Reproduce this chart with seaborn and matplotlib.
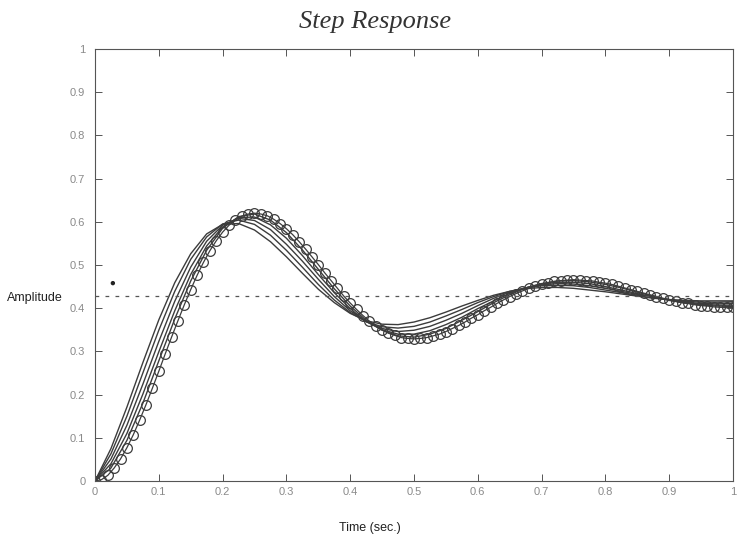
import numpy as np
import pandas as pd
import matplotlib
matplotlib.use("Agg")
import matplotlib.pyplot as plt
import seaborn as sns

# ---------------- data ----------------
title = "Step Response"
xlabel = "Time (sec.)"
ylabel = "Amplitude"
xticks = [0, 0.1, 0.2, 0.3, 0.4, 0.5, 0.6, 0.7, 0.8, 0.9, 1]
xtick_labels = ["0", "0.1", "0.2", "0.3", "0.4", "0.5", "0.6", "0.7", "0.8", "0.9", "1"]
yticks = [0, 0.1, 0.2, 0.3, 0.4, 0.5, 0.6, 0.7, 0.8, 0.9, 1]
ytick_labels = ["0", "0.1", "0.2", "0.3", "0.4", "0.5", "0.6", "0.7", "0.8", "0.9", "1"]

t_circle = np.linspace(0, 1, 101)
y_circle = [
    0.000, 0.003, 0.013, 0.030, 0.051, 0.077, 0.107, 0.141, 0.177, 0.215,
    0.254, 0.294, 0.333, 0.371, 0.408, 0.443, 0.476, 0.506, 0.533, 0.556,
    0.576, 0.592, 0.604, 0.613, 0.618, 0.620, 0.618, 0.614, 0.606, 0.596,
    0.584, 0.570, 0.554, 0.537, 0.519, 0.501, 0.482, 0.464, 0.446, 0.428,
    0.412, 0.397, 0.383, 0.370, 0.359, 0.350, 0.342, 0.337, 0.332, 0.330,
    0.329, 0.330, 0.332, 0.336, 0.340, 0.346, 0.353, 0.360, 0.368, 0.377,
    0.385, 0.394, 0.402, 0.411, 0.419, 0.427, 0.434, 0.440, 0.446, 0.451,
    0.456, 0.459, 0.462, 0.464, 0.465, 0.466, 0.465, 0.464, 0.463, 0.460,
    0.458, 0.455, 0.451, 0.447, 0.443, 0.439, 0.435, 0.431, 0.427, 0.423,
    0.420, 0.416, 0.413, 0.411, 0.408, 0.406, 0.405, 0.403, 0.402, 0.402, 0.402,
]

t_lines = np.linspace(0, 1, 41)
y_line1 = [
    0.000, 0.075, 0.171, 0.274, 0.373, 0.459, 0.526, 0.572, 0.594, 0.596,
    0.581, 0.554, 0.519, 0.481, 0.444, 0.413, 0.388, 0.371, 0.363, 0.362,
    0.368, 0.378, 0.391, 0.405, 0.418, 0.430, 0.439, 0.445, 0.448, 0.448,
    0.446, 0.442, 0.438, 0.433, 0.428, 0.423, 0.420, 0.418, 0.417, 0.417, 0.417,
]
y_line2 = [
    0.000, 0.063, 0.150, 0.250, 0.349, 0.439, 0.513, 0.565, 0.595, 0.604,
    0.594, 0.569, 0.534, 0.495, 0.455, 0.419, 0.390, 0.369, 0.357, 0.354,
    0.358, 0.368, 0.382, 0.397, 0.413, 0.427, 0.439, 0.447, 0.452, 0.453,
    0.452, 0.448, 0.442, 0.436, 0.430, 0.424, 0.420, 0.416, 0.414, 0.414, 0.415,
]
y_line3 = [
    0.000, 0.051, 0.129, 0.224, 0.323, 0.416, 0.495, 0.555, 0.592, 0.608,
    0.603, 0.582, 0.548, 0.509, 0.467, 0.427, 0.394, 0.369, 0.353, 0.346,
    0.349, 0.358, 0.372, 0.388, 0.406, 0.423, 0.437, 0.447, 0.454, 0.457,
    0.456, 0.452, 0.446, 0.439, 0.432, 0.425, 0.419, 0.414, 0.411, 0.410, 0.411,
]
y_line4 = [
    0.000, 0.040, 0.110, 0.201, 0.299, 0.394, 0.478, 0.544, 0.588, 0.610,
    0.611, 0.593, 0.562, 0.522, 0.478, 0.436, 0.399, 0.369, 0.350, 0.340,
    0.340, 0.348, 0.362, 0.379, 0.399, 0.417, 0.434, 0.447, 0.456, 0.460,
    0.460, 0.457, 0.450, 0.442, 0.434, 0.426, 0.418, 0.412, 0.409, 0.407, 0.407,
]
y_line5 = [
    0.000, 0.030, 0.094, 0.180, 0.278, 0.375, 0.463, 0.534, 0.585, 0.612,
    0.618, 0.604, 0.575, 0.535, 0.490, 0.445, 0.405, 0.372, 0.349, 0.336,
    0.333, 0.340, 0.353, 0.372, 0.392, 0.413, 0.431, 0.447, 0.457, 0.463,
    0.464, 0.461, 0.455, 0.447, 0.437, 0.428, 0.419, 0.412, 0.407, 0.405, 0.404,
]
line_names = ["m1", "m2", "m3", "m4", "m5"]
line_values = [y_line1, y_line2, y_line3, y_line4, y_line5]

final_value = 0.428
marker_point_t = [0.028]
marker_point_v = [0.458]

# ---------------- tables ----------------
df_lines = pd.concat(
    [pd.DataFrame({"t": t_lines, "v": v, "curve": n}) for n, v in zip(line_names, line_values)],
    ignore_index=True,
)
df_circle = pd.DataFrame({"t": t_circle, "v": y_circle})
df_dot = pd.DataFrame({"t": marker_point_t, "v": marker_point_v})

# ---------------- style ----------------
sns.set_style("ticks")
plt.rcParams["font.family"] = ["Liberation Sans", "DejaVu Sans"]

W, H = 737, 541
fig = plt.figure(figsize=(W / 100, H / 100), dpi=100)
ax = fig.add_axes([95 / W, 60 / H, 638 / W, 432 / H])

ink = "#3c3c3c"
sns.lineplot(data=df_lines, x="t", y="v", units="curve", estimator=None,
             color=ink, linewidth=1.0, ax=ax, legend=False)
sns.lineplot(data=df_circle, x="t", y="v", color=ink, linewidth=0.9,
             marker="o", markersize=7, markerfacecolor="none",
             markeredgecolor=ink, markeredgewidth=0.9, ax=ax, legend=False)
sns.scatterplot(data=df_dot, x="t", y="v", color="#222222", s=10,
                edgecolor="none", ax=ax, legend=False)
ax.axhline(final_value, color="#555555", linewidth=0.9, linestyle=(0, (3, 5)))

ax.set_xlim(0, 1)
ax.set_ylim(0, 1)
ax.set_xticks(xticks)
ax.set_xticklabels(xtick_labels)
ax.set_yticks(yticks)
ax.set_yticklabels(ytick_labels)
ax.tick_params(direction="in", length=5, width=0.7, color="#555555",
               top=True, right=True, labelsize=8, labelcolor="#8a8a8a")
ax.tick_params(axis="y", pad=7)
ax.tick_params(axis="x", pad=4)
for s in ax.spines.values():
    s.set_visible(True)
    s.set_color("#555555")
    s.set_linewidth(0.8)

ax.set_xlabel(xlabel, fontsize=9, color="#222222")
ax.xaxis.set_label_coords((370 - 95) / 638, (481 - 522) / 432)
ax.set_ylabel(ylabel, fontsize=9, color="#222222", rotation=0, ha="center", va="center")
ax.yaxis.set_label_coords((35 - 95) / 638, (481 - 298) / 432)

fig.text(375 / W, 1 - 22 / H, title, ha="center", va="center",
         fontsize=19, style="italic", family=["Liberation Serif", "DejaVu Serif"], color="#333333")

fig.savefig("out.png", dpi=100, facecolor="white")
